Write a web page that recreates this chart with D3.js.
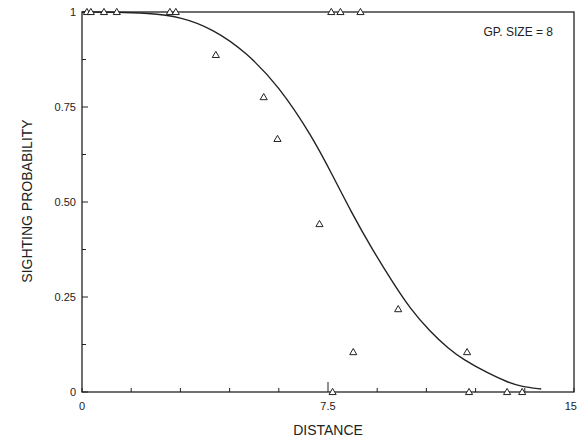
<!DOCTYPE html>
<html>
<head>
<meta charset="utf-8">
<script src="https://cdn.jsdelivr.net/npm/d3@7"></script>
<style>
  body { margin: 0; background: #fff; }
  text { font-family: "Liberation Sans", Arial, sans-serif; fill: #222; }
</style>
</head>
<body>
<svg></svg>
<script>
// observed sightings (distance, proportion seen)
var obsDistance = [0.15, 0.27, 0.67, 1.06, 2.68, 2.86, 7.6, 7.88, 8.49,
                   4.08, 5.54, 5.96, 7.24, 9.64, 8.27, 11.74, 7.64, 11.8, 12.96, 13.42];
var obsProb = [1, 1, 1, 1, 1, 1, 1, 1, 1,
               0.887, 0.776, 0.666, 0.442, 0.218, 0.105, 0.105, 0, 0, 0, 0];

// fitted curve
var fitDistance = [0, 1, 2, 3, 4, 5, 6, 7, 7.64, 8.2, 8.85, 9.5, 10, 10.6, 11.2, 11.6, 12.4, 13, 13.4, 14.0];
var fitProb = [1, 1, 0.997, 0.988, 0.955, 0.895, 0.805, 0.675, 0.57, 0.475, 0.375, 0.285, 0.22, 0.16, 0.112, 0.087, 0.048, 0.025, 0.014, 0.008];

var xTickValues = [0, 7.5, 15];
var xTickLabels = ["0", "7.5", "15"];
var yTickValues = [0, 0.25, 0.5, 0.75, 1];
var yTickLabels = ["0", "0.25", "0.50", "0.75", "1"];

var width = 577, height = 441;
var svg = d3.select("svg").attr("width", width).attr("height", height);

var x = d3.scaleLinear().domain([0, 15]).range([82, 574]);
var y = d3.scaleLinear().domain([0, 1]).range([392, 12]);

// frame
svg.append("rect")
  .attr("x", x(0)).attr("y", y(1))
  .attr("width", x(15) - x(0)).attr("height", y(0) - y(1))
  .attr("fill", "none").attr("stroke", "#222").attr("stroke-width", 1.3);

// x minor ticks (inside)
var xMinor = d3.range(0, 15.01, 1.5);
svg.append("g").selectAll("line").data(xMinor).enter().append("line")
  .attr("x1", function(d){ return x(d); }).attr("x2", function(d){ return x(d); })
  .attr("y1", y(0)).attr("y2", function(d){ return d === 7.5 ? y(0) - 10 : y(0) - 4; })
  .attr("stroke", "#222").attr("stroke-width", 1);

// y ticks (inside)
var yMinor = d3.range(0, 1.001, 0.125);
svg.append("g").selectAll("line").data(yMinor).enter().append("line")
  .attr("x1", x(0)).attr("x2", function(d){ return (d * 4) % 1 === 0 ? x(0) + 6 : x(0) + 4; })
  .attr("y1", function(d){ return y(d); }).attr("y2", function(d){ return y(d); })
  .attr("stroke", "#222").attr("stroke-width", 1);

// tick labels
svg.append("g").selectAll("text").data(xTickValues).enter().append("text")
  .attr("x", function(d){ return d === 15 ? 577 : x(d); }).attr("y", 410)
  .attr("text-anchor", function(d){ return d === 15 ? "end" : "middle"; })
  .attr("font-size", 11)
  .text(function(d, i){ return xTickLabels[i]; });

svg.append("g").selectAll("text").data(yTickValues).enter().append("text")
  .attr("x", 76).attr("y", function(d){ return y(d) + 4; })
  .attr("text-anchor", "end").attr("font-size", 11)
  .text(function(d, i){ return yTickLabels[i]; });

// axis titles
svg.append("text").attr("x", 328).attr("y", 435)
  .attr("text-anchor", "middle").attr("font-size", 14).text("DISTANCE");
svg.append("text").attr("transform", "translate(32,201) rotate(-90)")
  .attr("text-anchor", "middle").attr("font-size", 14).text("SIGHTING PROBABILITY");

svg.append("text").attr("x", 553).attr("y", 36)
  .attr("text-anchor", "end").attr("font-size", 12).text("GP. SIZE = 8");

// fitted curve
var fit = fitDistance.map(function(d, i){ return [d, fitProb[i]]; });
var line = d3.line()
  .x(function(d){ return x(d[0]); })
  .y(function(d){ return y(d[1]); })
  .curve(d3.curveBasis);
svg.append("path").datum(fit)
  .attr("d", line).attr("fill", "none")
  .attr("stroke", "#222").attr("stroke-width", 1.4);

// observed points
var obs = obsDistance.map(function(d, i){ return [d, obsProb[i]]; });
var tri = d3.symbol().type(d3.symbolTriangle).size(22);
svg.append("g").selectAll("path").data(obs).enter().append("path")
  .attr("d", tri)
  .attr("transform", function(d){ return "translate(" + x(d[0]) + "," + (y(d[1]) + 0.5) + ")"; })
  .attr("fill", "#fff").attr("stroke", "#222").attr("stroke-width", 1);
</script>
</body>
</html>
